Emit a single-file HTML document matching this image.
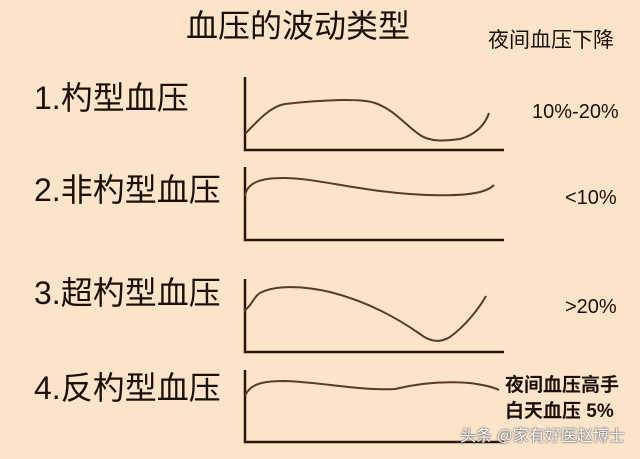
<!DOCTYPE html>
<html><head><meta charset="utf-8"><style>
html,body{margin:0;padding:0;}
body{width:640px;height:459px;background:#fce4c8;overflow:hidden;position:relative;font-family:"Liberation Sans","Noto Sans CJK SC",sans-serif;color:#1a1008;}
.t{position:absolute;white-space:nowrap;line-height:1;}
</style></head><body>
<svg width="640" height="459" style="position:absolute;left:0;top:0">
<g stroke="#2a1608" stroke-width="2.5" fill="none">
<path d="M245,77V150H504"/>
<path d="M245,167V240H504"/>
<path d="M245,279V352H504"/>
<path d="M245,370V442H504"/>
</g>
<g stroke="#5a3a22" stroke-width="2" fill="none">
<path d="M245,134 C260,118 272,106 285,104 C320,100 360,98 375,103 C395,110 405,125 420,135 C430,142 445,141 460,139 C475,135 485,125 489,113"/>
<path d="M245,196 C247,182 262,178 283,178 C310,178 340,186 380,191 C420,196 460,197 480,192 C488,190 492,187 494,185"/>
<path d="M244,311 C252,306 254,295 262,292 C275,286 300,285 330,292 C370,302 400,320 420,334 C430,342 440,343 450,337 C465,326 478,310 486,296"/>
<path d="M245,396 C250,383 265,381 285,381 C320,382 360,391 395,389 C420,383 445,381 470,383 C485,385 495,388 499,390"/>
</g>
</svg>
<div class="t" style="left:186px;top:10px;font-size:32px;">血压的波动类型</div>
<div class="t" style="left:488px;top:30px;font-size:21px;">夜间血压下降</div>
<div class="t" style="left:34px;top:82px;font-size:32px;">1.杓型血压</div>
<div class="t" style="left:34px;top:174px;font-size:32px;">2.非杓型血压</div>
<div class="t" style="left:34px;top:277px;font-size:32px;">3.超杓型血压</div>
<div class="t" style="left:34px;top:372px;font-size:32px;">4.反杓型血压</div>
<div class="t" style="left:532px;top:102px;font-size:20px;">10%-20%</div>
<div class="t" style="left:565px;top:188px;font-size:20px;">&lt;10%</div>
<div class="t" style="left:565px;top:297px;font-size:20px;">&gt;20%</div>
<div class="t" style="left:505px;top:376px;font-size:19px;font-weight:bold;">夜间血压高手</div>
<div class="t" style="left:505px;top:402px;font-size:19px;font-weight:bold;">白天血压 5%</div>
<div class="t" style="left:460px;top:429px;font-size:16px;color:#fff;text-shadow:0 0 2px #555,0 0 1px #333;">头条 @家有好医赵博士</div>
</body></html>
